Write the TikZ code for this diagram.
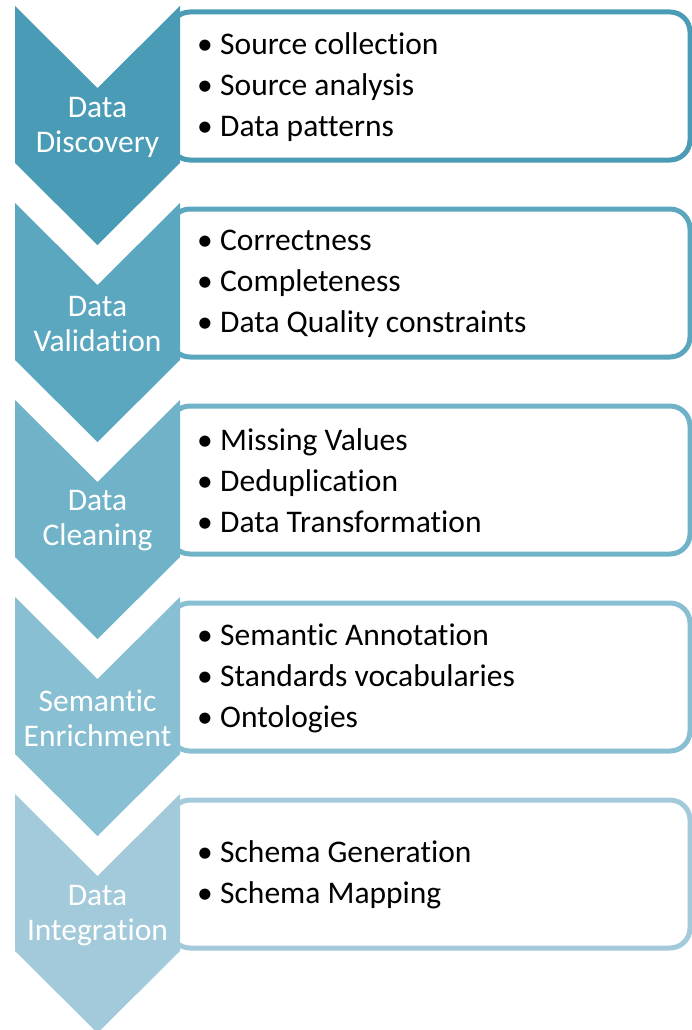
\documentclass[tikz,border=0pt]{standalone}
\usepackage{fontspec}
\setmainfont{Carlito}[RawFeature={-liga;-clig;-dlig;-calt}]
\usepackage{tikz}
\usetikzlibrary{positioning}

\definecolor{stageA}{HTML}{4A9BB5}
\definecolor{stageB}{HTML}{5BA7BF}
\definecolor{stageC}{HTML}{70B3C8}
\definecolor{stageD}{HTML}{88BFD2}
\definecolor{stageE}{HTML}{A3CADB}

\tikzset{
  chevron/.pic={\fill[pic actions] (-82.5,0) -- (0,82) -- (82.5,0) -- (82.5,157) -- (0,239) -- (-82.5,157) -- cycle;},
  stagebox/.style={rectangle, draw=#1, line width=5pt, rounded corners=20pt, fill=white, minimum width=520, minimum height=148},
  stagelabel/.style={text=white, align=center, inner sep=0pt, font=\fontsize{31.5}{35}\selectfont},
  itemlist/.style={anchor=west, align=left, inner sep=0pt, font=\fontsize{31.5}{41}\selectfont}
}
\newcommand{\stageitem}[1]{\makebox[23pt][l]{\textbullet}#1}

\begin{document}
\begin{tikzpicture}[x=1pt, y=-1pt]
\useasboundingbox (0,0) rectangle (692,1030);

% Data discovery
\node (discbox) [stagebox=stageA] at (430,86) {};
\pic[fill=stageA] at (97.5,6) {chevron};
\node (disclabel) [stagelabel] at (97.5,127) {Data\\Discovery};
\node (discitems) [itemlist] at (197,87) {\stageitem{Source collection}\\\stageitem{Source analysis}\\\stageitem{Data patterns}};

% Data validation
\node (validbox) [stagebox=stageB] at (430,283) {};
\pic[fill=stageB] at (97.5,203) {chevron};
\node (validlabel) [stagelabel] at (97.5,324) {Data\\Validation};
\node (validitems) [itemlist] at (197,284) {\stageitem{Correctness}\\\stageitem{Completeness}\\\stageitem{Data Quality constraints}};

% Data cleaning
\node (cleanbox) [stagebox=stageC] at (430,480) {};
\pic[fill=stageC] at (97.5,400) {chevron};
\node (cleanlabel) [stagelabel] at (97.5,521) {Data\\Cleaning};
\node (cleanitems) [itemlist] at (197,481) {\stageitem{Missing Values}\\\stageitem{Deduplication}\\\stageitem{Data Transformation}};

% Semantic enrichment
\node (semanbox) [stagebox=stageD] at (430,677) {};
\pic[fill=stageD] at (97.5,597) {chevron};
\node (semanlabel) [stagelabel] at (97.5,718) {Semantic\\Enrichment};
\node (semanitems) [itemlist] at (197,678) {\stageitem{Semantic Annotation}\\\stageitem{Standards vocabularies}\\\stageitem{Ontologies}};

% Data integration
\node (integbox) [stagebox=stageE] at (430,874) {};
\pic[fill=stageE] at (97.5,794) {chevron};
\node (integlabel) [stagelabel] at (97.5,916) {Data\\Integration};
\node (integitems) [itemlist] at (197,875) {\stageitem{Schema Generation}\\\stageitem{Schema Mapping}};

\end{tikzpicture}
\end{document}
